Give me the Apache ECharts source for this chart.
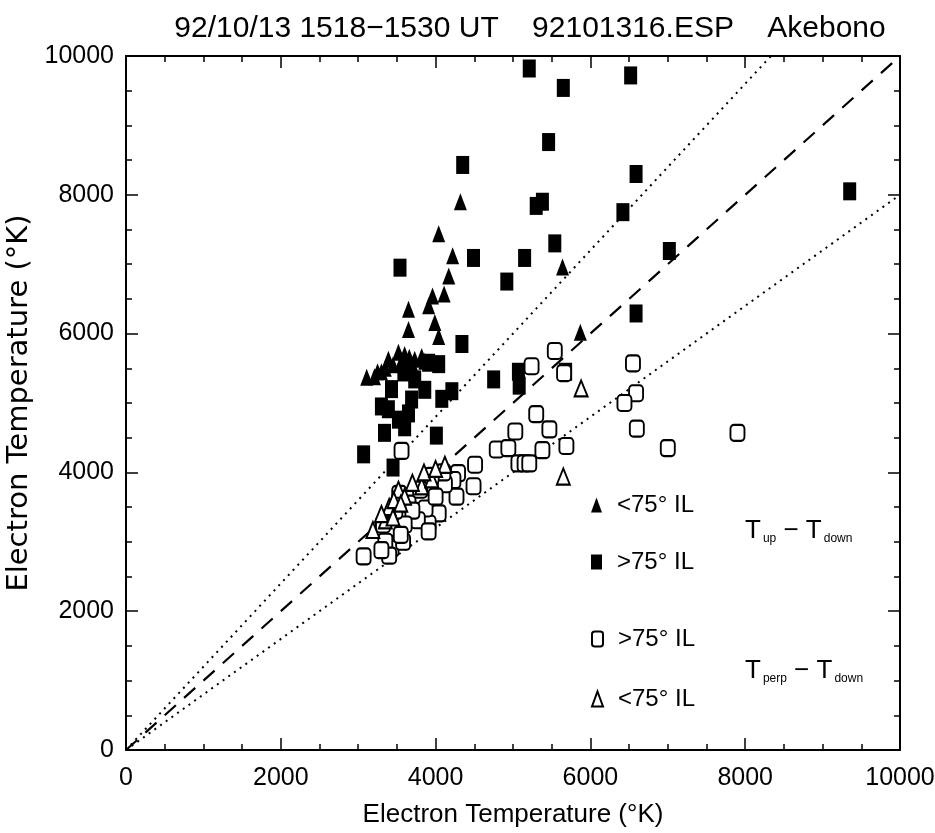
<!DOCTYPE html>
<html><head><meta charset="utf-8">
<script src="https://cdn.jsdelivr.net/npm/echarts@6/dist/echarts.min.js"></script>
<style>html,body{margin:0;padding:0;background:#fff}#c{width:935px;height:833px}</style>
</head><body><div id="c"></div>
<script>
// ---- data (Electron temperature, K) ----
const titleText = '92/10/13 1518\u22121530 UT    92101316.ESP    Akebono';
const axisName = 'Electron Temperature (\u00b0K)';
const xTicks = [0, 2000, 4000, 6000, 8000, 10000];
const yTicks = [0, 2000, 4000, 6000, 8000, 10000];

// T_up vs T_down, < 75 deg IL (filled triangles)
const upLow = [[4320,7900],[4040,7440],[4220,7120],[4170,6830],[5640,6960],[5870,6020],[3960,6540],[4110,6570],[3910,6400],[3990,6160],[4040,5960],[3650,6350],[3650,6060],[3390,5630],[3520,5730],[3210,5380],[3820,5670],[3660,5660],[3110,5370],[3300,5450],[3560,5600],[3730,5630],[3860,5600],[3450,5550],[3600,5700],[3350,5500],[3250,5450],[3700,5550]];
// T_up vs T_down, > 75 deg IL (filled squares)
const upHigh = [[5210,9820],[5650,9540],[6520,9720],[5460,8760],[4350,8430],[6590,8300],[5300,7840],[5380,7900],[6420,7750],[9350,8050],[7020,7190],[6590,6290],[4490,7090],[5150,7090],[5540,7300],[4920,6750],[4340,5850],[4040,5560],[4750,5340],[4210,5170],[4010,4530],[3070,4260],[3450,4070],[5070,5450],[5080,5250],[5680,5450],[3910,5580],[3390,4910],[3340,4570],[3520,4760],[3690,5050],[3860,5190],[3730,5340],[3590,5440],[3430,5200],[3600,4650],[3540,6950],[4080,5060],[3300,4950],[3650,4850]];
// T_perp vs T_down, > 75 deg IL (open squares)
const perpHigh = [[5540,5750],[5240,5530],[5660,5430],[6550,5570],[6590,5140],[6440,5000],[6600,4630],[7000,4350],[7900,4570],[5300,4840],[5470,4620],[5030,4590],[4790,4330],[4940,4350],[5380,4320],[5690,4380],[5070,4130],[5150,4130],[5210,4130],[3560,4310],[3070,2790],[4490,3800],[4510,4110],[4270,3650],[4290,3990],[4230,3890],[4120,3830],[4040,3410],[3910,3260],[3870,3480],[3770,3310],[3910,3150],[3430,2900],[3580,3000],[3530,3690],[3650,3550],[3800,3750],[3700,3450],[3450,3200],[3350,3000],[3320,3250],[3600,3250],[4000,3650],[4100,4000],[3950,3950],[3550,3100],[3480,3450],[3400,2800],[3300,2880]];
// T_perp vs T_down, < 75 deg IL (open triangles)
const perpLow = [[5880,5210],[5650,3940],[3520,3750],[3820,3800],[3950,3900],[4120,4110],[3190,3170],[3350,3310],[3400,3500],[3460,3600],[3300,3400],[3600,3650],[3700,3850],[3850,4000],[4000,4050],[3450,3350],[3550,3550]];
// reference lines y = k x
const refSlopes = [1.2, 1.0, 0.8];

const legendText = {upLow:'<75\u00b0 IL', upHigh:'>75\u00b0 IL', perpHigh:'>75\u00b0 IL', perpLow:'<75\u00b0 IL'};

const FONT = 'Liberation Sans';
const chart = echarts.init(document.getElementById('c'), null, {renderer:'canvas'});

function refLine(k, type, width){
  const xEnd = Math.min(10000, 10000 / k);
  return {type:'line', name:'ref'+k, data:[[0,0],[xEnd, xEnd*k]], symbol:'none', silent:true,
    lineStyle:{color:'#000', width:width, type:type}, z:1};
}

const axisCommon = {
  type:'value', min:0, max:10000, interval:2000,
  axisLine:{show:true, onZero:false, lineStyle:{color:'#000', width:2}},
  axisTick:{show:true, inside:true, length:12, lineStyle:{color:'#000', width:1.5}},
  minorTick:{show:true, splitNumber:4, length:6, lineStyle:{color:'#000', width:1.5}},
  splitLine:{show:false},
  axisLabel:{color:'#000', fontSize:25, fontFamily:FONT, formatter:v=>String(v)}
};

const legendBase = {orient:'vertical', itemWidth:11, itemHeight:15, textStyle:{fontSize:24, fontFamily:FONT, color:'#000', padding:[0,0,0,10]}, formatter:n=>legendText[n], selectedMode:false};

chart.setOption({
  animation:false,
  backgroundColor:'#fff',
  title:{text:titleText, left:525, textAlign:'center', top:9, textStyle:{fontSize:30, fontWeight:'normal', fontFamily:FONT, color:'#000'}},
  grid:{left:126, right:35, top:56, bottom:83, containLabel:false, outerBoundsMode:'none'},
  xAxis:[
    Object.assign({}, axisCommon, {position:'bottom', name:axisName, nameLocation:'middle', nameGap:52, nameTextStyle:{fontSize:26, fontFamily:FONT, color:'#000'}, axisLabel:Object.assign({}, axisCommon.axisLabel, {margin:16})}),
    Object.assign({}, axisCommon, {position:'top', axisLabel:{show:false}})
  ],
  yAxis:[
    Object.assign({}, axisCommon, {position:'left', name:axisName, nameLocation:'middle', nameGap:92, nameTextStyle:{fontSize:29, fontFamily:'DejaVu Sans', color:'#000'}, axisLabel:Object.assign({}, axisCommon.axisLabel, {margin:12})}),
    Object.assign({}, axisCommon, {position:'right', axisLabel:{show:false}})
  ],
  legend:[
    Object.assign({}, legendBase, {data:['upLow'], left:586, top:488}),
    Object.assign({}, legendBase, {data:['upHigh'], left:586, top:545}),
    Object.assign({}, legendBase, {data:['perpHigh'], left:586, top:622}),
    Object.assign({}, legendBase, {data:['perpLow'], left:586, top:682})
  ],
  graphic:[
    {type:'text', left:745, top:518, style:{text:'{t|T}{s|up}{t| \u2212 T}{s|down}', rich:{t:{fontSize:26, fontFamily:FONT, fill:'#000'}, s:{fontSize:12, fontFamily:FONT, fill:'#000', padding:[16,0,0,2]}}}},
    {type:'text', left:745, top:658, style:{text:'{t|T}{s|perp}{t| \u2212 T}{s|down}', rich:{t:{fontSize:26, fontFamily:FONT, fill:'#000'}, s:{fontSize:12, fontFamily:FONT, fill:'#000', padding:[16,0,0,2]}}}}
  ],
  series:[
    refLine(refSlopes[0], [2,5], 2),
    refLine(refSlopes[1], [15,11], 2.2),
    refLine(refSlopes[2], [2,5], 2),
    {type:'scatter', name:'upHigh', data:upHigh, symbol:'rect', symbolSize:[13,18], itemStyle:{color:'#000', opacity:1}, z:3},
    {type:'scatter', name:'upLow', data:upLow, symbol:'triangle', symbolSize:[13,17], itemStyle:{color:'#000', opacity:1}, z:3},
    {type:'scatter', name:'perpHigh', data:perpHigh, symbol:'roundRect', symbolSize:[14,16], itemStyle:{color:'#fff', borderColor:'#000', borderWidth:2, opacity:1}, z:4},
    {type:'scatter', name:'perpLow', data:perpLow, symbol:'triangle', symbolSize:[13,16], itemStyle:{color:'#fff', borderColor:'#000', borderWidth:2, opacity:1}, z:4}
  ]
});
</script></body></html>
